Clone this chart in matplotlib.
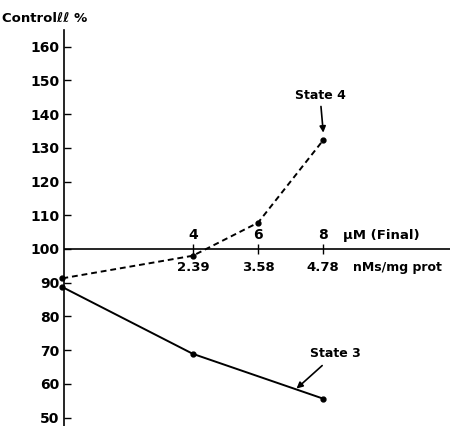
import matplotlib.pyplot as plt

# values
conc_um = [0, 4, 6, 8]
state4 = [91.3, 98.0, 107.8, 132.3]
conc_s3 = [0, 4, 8]
state3 = [88.7, 68.9, 55.6]

top_ticks = [4, 6, 8]
top_labels = ["4", "6", "8"]
bottom_labels = ["2.39", "3.58", "4.78"]
y_ticks = list(range(50, 161, 10))

plt.rcParams["font.family"] = "DejaVu Sans"
plt.rcParams["font.weight"] = "bold"

fig = plt.figure(figsize=(4.5, 4.26), dpi=100)
ax = fig.add_axes([0.142, 0.0, 0.858, 0.93])

ax.plot(conc_um, state4, "k--", lw=1.4, marker="o", ms=3.5, dashes=(3, 2), clip_on=False)
ax.plot(conc_s3, state3, "k-", lw=1.4, marker="o", ms=3.5, clip_on=False)

ax.set_xlim(0.046, 11.886)
ax.set_ylim(47.5, 165)

# y=100 reference line used as the concentration axis
ax.axhline(100, color="k", lw=1.2)
ax.plot(top_ticks, [100] * len(top_ticks), "k|", ms=7, mew=1.0)
for x, t, b in zip(top_ticks, top_labels, bottom_labels):
    ax.text(x, 102, t, ha="center", va="bottom", fontsize=10)
    ax.text(x, 96.5, b, ha="center", va="top", fontsize=9.5)
ax.text(8.6, 102, "μM (Final)", ha="left", va="bottom", fontsize=9.5)
ax.text(8.92, 96.5, "nMs/mg prot", ha="left", va="top", fontsize=9)

for s in ("top", "right", "bottom"):
    ax.spines[s].set_visible(False)
ax.spines["left"].set_linewidth(1.2)
ax.set_xticks([])
ax.set_yticks(y_ticks)
ax.tick_params(axis="y", direction="in", length=5, width=1.0, labelsize=10, pad=3)

ax.annotate("State 4", xy=(8, 134.5), xytext=(7.9, 143.5), ha="center", va="bottom",
            fontsize=9, arrowprops=dict(arrowstyle="-|>", color="k", lw=1.2, shrinkA=1, shrinkB=0))
ax.annotate("State 3", xy=(7.18, 58.6), xytext=(7.6, 69.0), ha="left", va="center",
            fontsize=9, arrowprops=dict(arrowstyle="-|>", color="k", lw=1.2, shrinkA=3, shrinkB=0))

fig.text(0.005, 0.972, "Controlℓℓ %", ha="left", va="top", fontsize=9.5, fontweight="bold")

fig.savefig("out.png", dpi=100)
